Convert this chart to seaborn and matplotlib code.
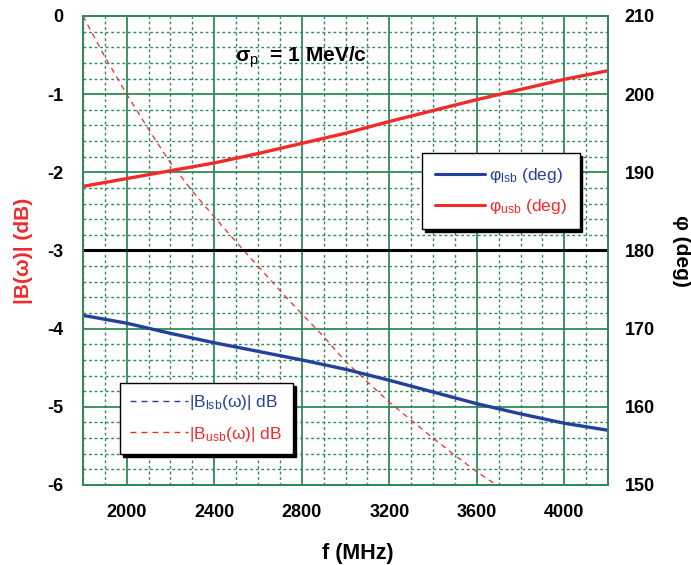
import numpy as np
import pandas as pd
import matplotlib
matplotlib.use("Agg")
import matplotlib.pyplot as plt
from matplotlib.ticker import MultipleLocator
from matplotlib.lines import Line2D
import seaborn as sns

# ---- data ----
freq_phase = [1800, 2000, 2200, 2400, 2600, 2800, 3000, 3200, 3400, 3600, 3800, 4000, 4200]
phi_usb = [188.2, 189.2, 190.2, 191.2, 192.4, 193.7, 195.0, 196.5, 197.9, 199.3, 200.6, 201.9, 203.0]
phi_lsb = [171.7, 170.7, 169.4, 168.2, 167.1, 166.0, 164.8, 163.4, 161.9, 160.4, 159.1, 157.9, 157.0]

freq_mag = [1800, 1900, 2000, 2100, 2200, 2300, 2400, 2500, 2600, 2700, 2800,
            2900, 3000, 3100, 3200, 3300, 3400, 3500, 3600, 3700]
b_usb_db = [0.0, -0.52, -1.0, -1.45, -1.88, -2.24, -2.57, -2.89, -3.2, -3.51, -3.81,
            -4.1, -4.42, -4.68, -4.94, -5.17, -5.4, -5.62, -5.83, -6.02]
b_lsb_db = [-3.0] * len(freq_mag)

ref_db = -3.0
x_tick_labels = ["2000", "2400", "2800", "3200", "3600", "4000"]
left_tick_labels = ["0", "-1", "-2", "-3", "-4", "-5", "-6"]
right_tick_labels = ["150", "160", "170", "180", "190", "200", "210"]

BLUE = "#23409a"
RED = "#f22a2a"
GREEN = "#2e8b57"

sns.set_theme(style="white")
plt.rcParams["font.family"] = ["Liberation Sans", "DejaVu Sans"]
plt.rcParams["mathtext.fontset"] = "custom"
plt.rcParams["mathtext.rm"] = "Liberation Sans"
plt.rcParams["mathtext.bf"] = "Liberation Sans:bold"
plt.rcParams["mathtext.it"] = "Liberation Sans:italic"
for k in ["text.color", "axes.labelcolor", "xtick.color", "ytick.color"]:
    plt.rcParams[k] = "black"

fig = plt.figure(figsize=(6.91, 5.65), dpi=100)
fig.patch.set_facecolor("white")
ax = fig.add_axes([0.120, 0.1416, 0.760, 0.8301])
ax2 = ax.twinx()

df_mag = pd.DataFrame({"f": freq_mag, "usb": b_usb_db, "lsb": b_lsb_db})
df_ph = pd.DataFrame({"f": freq_phase, "usb": phi_usb, "lsb": phi_lsb})

# grid
ax.set_xlim(1800, 4200)
ax.set_ylim(-6, 0)
ax.xaxis.set_major_locator(MultipleLocator(400))
ax.xaxis.set_minor_locator(MultipleLocator(100))
ax.yaxis.set_major_locator(MultipleLocator(1))
ax.yaxis.set_minor_locator(MultipleLocator(0.2))
ax.grid(which="major", color=GREEN, lw=1.3, ls="-")
ax.grid(which="minor", color=GREEN, lw=1.0, ls=(0, (2, 2)))
ax.set_axisbelow(True)

DASH = (0, (4.3, 3.6))
# magnitude lines (left axis)
sns.lineplot(data=df_mag, x="f", y="lsb", ax=ax, color=BLUE, lw=0.9,
             linestyle=DASH, legend=False)
ax.axhline(ref_db, color="black", lw=2.2, zorder=3)
sns.lineplot(data=df_mag, x="f", y="usb", ax=ax, color=RED, lw=0.9,
             linestyle=DASH, legend=False)

# phase lines (right axis)
ax2.set_ylim(150, 210)
sns.lineplot(data=df_ph, x="f", y="usb", ax=ax2, color=RED, lw=2.4, legend=False)
sns.lineplot(data=df_ph, x="f", y="lsb", ax=ax2, color=BLUE, lw=2.4, legend=False)
ax2.grid(False)
ax2.set_xlim(1800, 4200)

for a in (ax, ax2):
    for s in a.spines.values():
        s.set_color(GREEN)
        s.set_linewidth(1.3)
    a.tick_params(which="both", length=0)

tick_font = dict(fontsize=13, fontweight="bold", color="black")
ax.set_xticks([int(v) for v in x_tick_labels])
ax.set_xticklabels(x_tick_labels, **tick_font)
ax.set_yticks([float(v) for v in left_tick_labels])
ax.set_yticklabels(left_tick_labels, **tick_font)
ax.set_xlim(1800, 4200)
ax.set_ylim(-6, 0)
ax2.set_yticks([float(v) for v in right_tick_labels])
ax2.set_yticklabels(right_tick_labels, **tick_font)
ax2.set_ylim(150, 210)
ax.tick_params(axis="x", pad=14)
ax.tick_params(axis="y", pad=14)
ax2.tick_params(axis="y", pad=12)

ax.set_xlabel("f (MHz)", fontsize=15.5, fontweight="bold")
ax.xaxis.set_label_coords(0.524, -0.124)
ax.set_ylabel("|B(ω)| (dB)", fontsize=15, fontweight="bold", color=RED, labelpad=10)
ax2.set_ylabel("φ (deg)", fontsize=15, fontweight="bold", color="black",
               rotation=-90, labelpad=26)

fig.text(235 / 691, 1 - 57 / 565, r"σ$_{\rm p}$  = 1 MeV/c", fontsize=15,
         fontweight="bold", ha="left", va="center")

# legends
ph_handles = [Line2D([], [], color=BLUE, lw=2.2), Line2D([], [], color=RED, lw=2.2)]
ph_labels = [r"φ$_{\rm lsb}$ (deg)", r"φ$_{\rm usb}$ (deg)"]
leg1 = ax2.legend(ph_handles, ph_labels, loc="upper left",
                  bbox_to_anchor=(422 / 691, 1 - 153 / 565), bbox_transform=fig.transFigure,
                  borderaxespad=0, fontsize=12.5, frameon=True, fancybox=False,
                  edgecolor="black", handlelength=2.9, handletextpad=0.2,
                  borderpad=0.75, labelspacing=0.68,
                  shadow={"color": "black", "alpha": 1.0})
for t, c in zip(leg1.get_texts(), [BLUE, RED]):
    t.set_color(c)
leg1.get_frame().set_linewidth(1.0)

mag_handles = [Line2D([], [], color=BLUE, lw=1.0, ls=DASH),
               Line2D([], [], color=RED, lw=1.0, ls=DASH)]
mag_labels = [r"|B$_{\rm lsb}$(ω)| dB", r"|B$_{\rm usb}$(ω)| dB"]
leg2 = ax2.legend(mag_handles, mag_labels, loc="upper left",
                  bbox_to_anchor=(120 / 691, 1 - 383 / 565), bbox_transform=fig.transFigure,
                  borderaxespad=0, fontsize=12.5, frameon=True, fancybox=False,
                  edgecolor="black", handlelength=3.3, handletextpad=0.1,
                  borderpad=0.6, labelspacing=0.7,
                  shadow={"color": "black", "alpha": 1.0})
for t, c in zip(leg2.get_texts(), [BLUE, RED]):
    t.set_color(c)
leg2.get_frame().set_linewidth(1.0)
ax2.add_artist(leg1)

fig.savefig("out.png", dpi=100, facecolor="white")
